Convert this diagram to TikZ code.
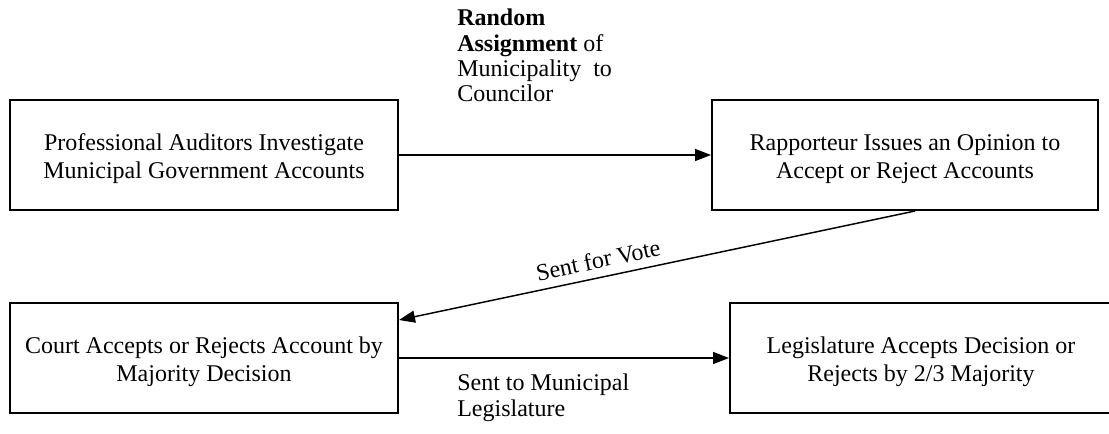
\documentclass[tikz,border=0pt]{standalone}
\usepackage{fontspec}
\setmainfont{Liberation Serif}
\usetikzlibrary{arrows.meta}
\begin{document}
\begin{tikzpicture}[x=0.75pt,y=-0.75pt,
  every node/.style={font=\fontsize{18}{20.5}\selectfont},
  box/.style={draw, line width=1.5pt, align=center, minimum height=82.5pt, inner sep=0pt},
  lbl/.style={align=left, inner sep=0pt, font=\fontsize{18}{19}\selectfont},
  conn/.style={line width=1.1pt, -{Triangle[length=12pt,width=9pt]}}]
\useasboundingbox (0,0) rectangle (1109,433);
\node[box, minimum width=291pt] (b1) at (204,155) {\\[-2.5pt]Professional Auditors Investigate\\Municipal Government Accounts};
\node[box, minimum width=289.5pt] (b2) at (905,155) {\\[-2.5pt]Rapporteur Issues an Opinion to\\Accept or Reject Accounts};
\node[box, minimum width=291pt] (b3) at (204,358) {\\[-2.5pt]Court Accepts or Rejects Account by\\Majority Decision};
\node[box, minimum width=286.5pt] (b4) at (921,358) {\\[-2.5pt]Legislature Accepts Decision or\\Rejects by 2/3 Majority};
\node[lbl, anchor=north west] (l1) at (457,9) {\textbf{Random}\\\textbf{Assignment} of\\Municipality~ to\\Councilor};
\node[lbl, anchor=north west] (l3) at (457,374) {Sent to Municipal\\Legislature};
\node[inner sep=0pt, rotate=12] (l2) at (598,260) {Sent for Vote};
\draw[conn] (b1.east) -- (b2.west);
\draw[conn] ([xshift=7.5pt]b2.south) -- ([yshift=28.5pt]b3.east);
\draw[conn] (b3.east) -- (b4.west);
\end{tikzpicture}
\end{document}
